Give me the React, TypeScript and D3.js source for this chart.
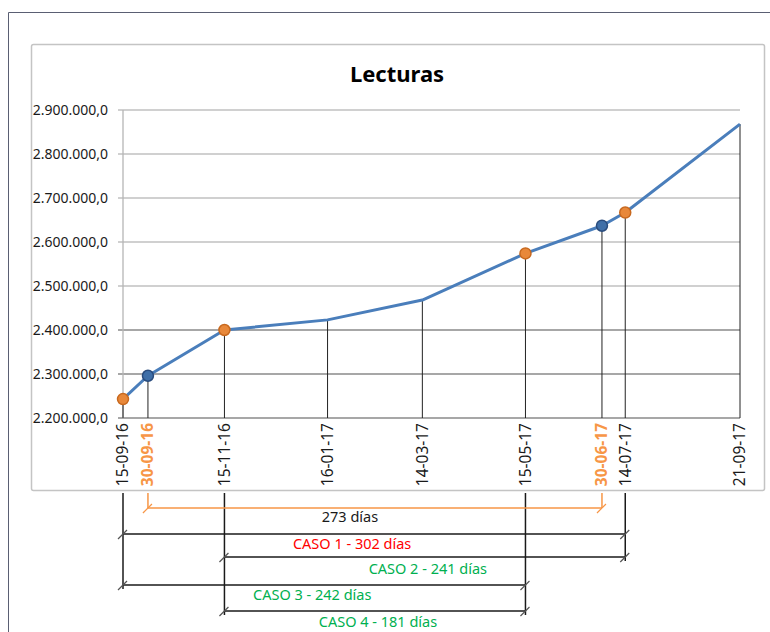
import React from "react";
import * as d3 from "d3";

// ---- data ----
const dateLabels = ["15-09-16", "30-09-16", "15-11-16", "16-01-17", "14-03-17", "15-05-17", "30-06-17", "14-07-17", "21-09-17"];
const readings = [2243000, 2296000, 2400000, 2423000, 2468000, 2574000, 2637000, 2667000, 2868000];
// "reading" = orange marker, "interp" = blue marker, "none" = no marker
const markerKinds = ["reading", "interp", "reading", "none", "none", "reading", "interp", "reading", "none"];
const highlightedLabels = ["30-09-16", "30-06-17"];
const yTicks = [2200000, 2300000, 2400000, 2500000, 2600000, 2700000, 2800000, 2900000];
const title = "Lecturas";

const spanFrom = ["30-09-16", "15-09-16", "15-11-16", "15-09-16", "15-11-16"];
const spanTo = ["30-06-17", "14-07-17", "14-07-17", "15-05-17", "15-05-17"];
const spanLabels = ["273 días", "CASO 1 - 302 días", "CASO 2 - 241 días", "CASO 3 - 242 días", "CASO 4 - 181 días"];

// ---- layout / style ----
const W = 770, H = 632;
const plot = { left: 123, right: 740, top: 110, bottom: 418 };
const spanRowY = [508, 534, 557, 585, 611];
const spanTextY = [521.5, 549, 574, 600, 627];
const spanTextDx = [-25, -22, 3, -12, 3];
const spanLineColor = ["#f79646", "#1a1a1a", "#1a1a1a", "#1a1a1a", "#1a1a1a"];
const spanTextColor = ["#1a1a1a", "#ff0000", "#00b050", "#00b050", "#00b050"];
const FONT = "'Noto Sans', 'DejaVu Sans', sans-serif";

const parse = d3.timeParse("%d-%m-%y");
const dates = dateLabels.map((s) => parse(s) as Date);

const x = d3.scaleTime().domain([dates[0], dates[dates.length - 1]]).range([plot.left, plot.right]);
const y = d3.scaleLinear().domain([yTicks[0], yTicks[yTicks.length - 1]]).range([plot.bottom, plot.top]);
const fmt = (v: number) => {
  const s = d3.format(",.1f")(v);
  return s.replace(/,/g, "#").replace(".", ",").replace(/#/g, ".");
};

const points = dates.map((d, i) => ({ d, v: readings[i], kind: markerKinds[i], label: dateLabels[i] }));
const lineGen = d3.line<{ d: Date; v: number }>().x((p) => x(p.d)).y((p) => y(p.v));

const xOf = (label: string) => x(parse(label) as Date);

export default function App() {
  // bottom vertical guides for span endpoints
  const guideDates = Array.from(new Set([...spanFrom, ...spanTo]));
  const guides = guideDates.map((lab) => {
    let maxY = 0;
    let orange = true;
    spanFrom.forEach((f, i) => {
      if (f === lab || spanTo[i] === lab) {
        maxY = Math.max(maxY, spanRowY[i]);
        if (i !== 0) orange = false;
      }
    });
    return { lab, x: xOf(lab), y2: orange ? maxY : maxY + 4, orange };
  });

  return (
    <svg width={W} height={H} style={{ position: "absolute", left: 0, top: 0, background: "#fff" }} fontFamily={FONT}>
      {/* outer frame */}
      <path d={`M8.5,${H} L8.5,12.5 L${W},12.5`} fill="none" stroke="#5a5f73" strokeWidth={1} />
      {/* chart box */}
      <rect x={31.5} y={44.5} width={733} height={446} rx={2} fill="#fff" stroke="#c4c4c4" strokeWidth={1.5} />
      <text x={397} y={82} textAnchor="middle" fontSize={22} fontWeight="bold" fill="#000">{title}</text>

      {/* gridlines and y labels */}
      {yTicks.map((t) => (
        <g key={t}>
          <line x1={plot.left - 5} x2={plot.right} y1={y(t)} y2={y(t)} stroke={t <= 2400000 ? "#8a8a8a" : "#c0c0c0"} strokeWidth={1.3} />
          <text x={108} y={y(t)} dy="0.35em" textAnchor="end" fontSize={14} fill="#1a1a1a">{fmt(t)}</text>
        </g>
      ))}
      <line x1={plot.left} x2={plot.left} y1={plot.top} y2={plot.bottom} stroke="#b5b5b5" strokeWidth={1.3} />

      {/* drop lines */}
      {points.map((p) => (
        <line key={"dl" + p.label} x1={x(p.d)} x2={x(p.d)} y1={y(p.v)} y2={plot.bottom} stroke="#222" strokeWidth={1} />
      ))}

      {/* series line */}
      <path d={lineGen(points) || ""} fill="none" stroke="#4a7ebb" strokeWidth={3} strokeLinejoin="round" />

      {/* markers */}
      {points.filter((p) => p.kind !== "none").map((p) => (
        <circle key={"m" + p.label} cx={x(p.d)} cy={y(p.v)} r={5.5}
          fill={p.kind === "reading" ? "#e8883a" : "#3f6fa8"}
          stroke={p.kind === "reading" ? "#c8691f" : "#2a4c7d"} strokeWidth={1.5} />
      ))}

      {/* x labels */}
      {points.map((p) => {
        const hl = highlightedLabels.includes(p.label);
        return (
          <text key={"xl" + p.label} transform={`translate(${x(p.d)},${plot.bottom + 5}) rotate(-90)`}
            textAnchor="end" dy="0.35em" fontSize={15.5} fontWeight={hl ? "bold" : "normal"}
            fill={hl ? "#f79646" : "#1a1a1a"}>{p.label}</text>
        );
      })}

      {/* span guides below chart */}
      {guides.map((g) => (
        <line key={"g" + g.lab} x1={g.x} x2={g.x} y1={493} y2={g.y2}
          stroke={g.orange ? "#f79646" : "#1a1a1a"} strokeWidth={1.5} />
      ))}

      {/* spans */}
      {spanLabels.map((lab, i) => {
        const x1 = xOf(spanFrom[i]);
        const x2 = xOf(spanTo[i]);
        const yy = spanRowY[i];
        return (
          <g key={"s" + i}>
            <line x1={x1} x2={x2} y1={yy} y2={yy} stroke={spanLineColor[i]} strokeWidth={1.5} />
            {[x1, x2].map((xx, j) => (
              <line key={j} x1={xx - 5} y1={yy + 5} x2={xx + 4} y2={yy - 4} stroke={i === 0 ? "#f79646" : "#555"} strokeWidth={1.2} />
            ))}
            <text x={(x1 + x2) / 2 + spanTextDx[i]} y={spanTextY[i]} textAnchor="middle" fontSize={14.5} fill={spanTextColor[i]}>{lab}</text>
          </g>
        );
      })}
    </svg>
  );
}
